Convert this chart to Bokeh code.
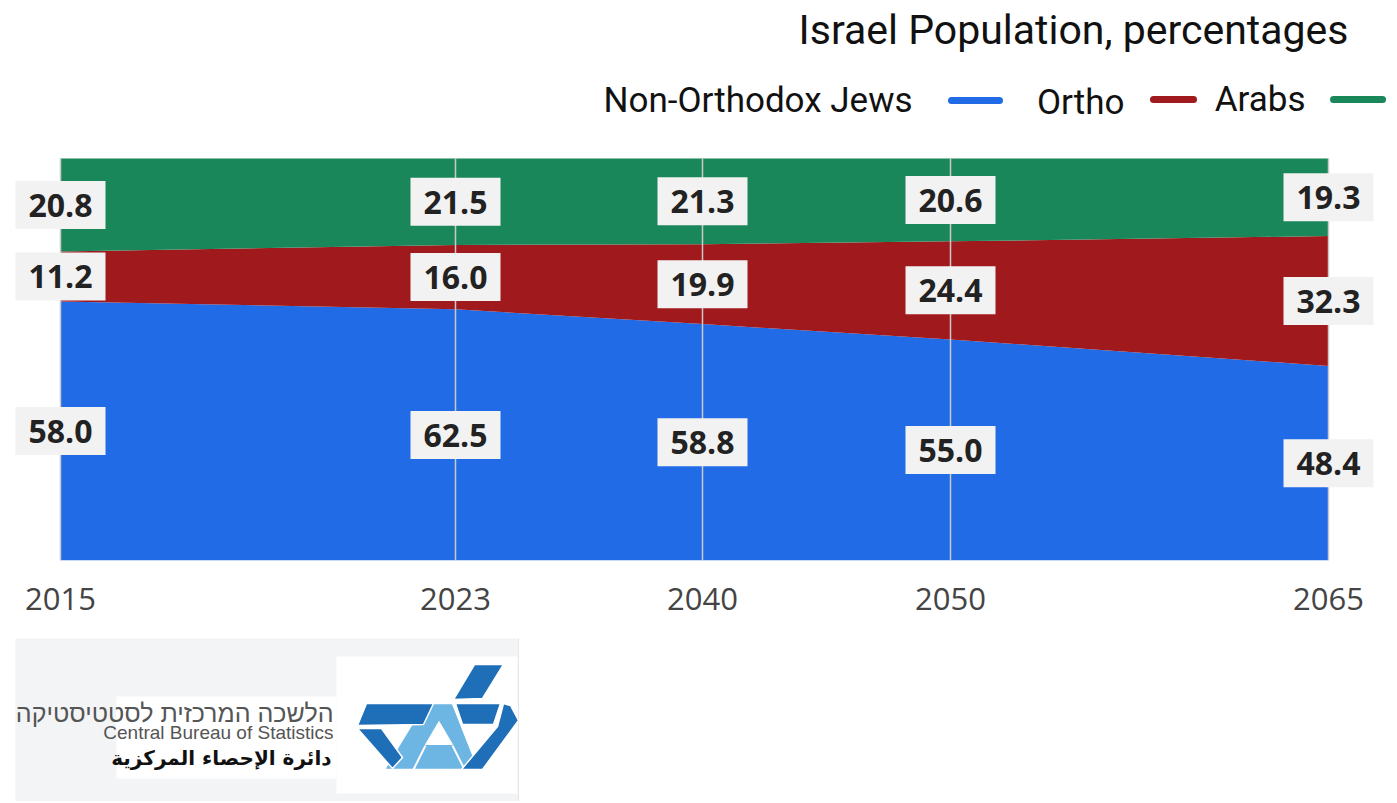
from bokeh.plotting import figure
from bokeh.models import ColumnDataSource, Range1d, FixedTicker, Label
from bokeh.layouts import column
from bokeh.embed import file_html
from bokeh.resources import INLINE
from bokeh.core.properties import value

# ---------------- data ----------------
years = ["2015", "2023", "2040", "2050", "2065"]
# horizontal position of each year column in the source chart (non-uniform spacing)
year_pos = [0, 395, 642, 890, 1268]
non_orthodox = [58.0, 62.5, 58.8, 55.0, 48.4]
orthodox = [11.2, 16.0, 19.9, 24.4, 32.3]
arabs = [20.8, 21.5, 21.3, 20.6, 19.3]
series_names = ["Non-Orthodox Jews", "Ortho", "Arabs"]
series_colors = ["#226be7", "#a0191c", "#1a875a"]
title_text = "Israel Population, percentages"

# 100% stacked shares
totals = [a + b + c for a, b, c in zip(non_orthodox, orthodox, arabs)]
sh_n = [v / t * 100 for v, t in zip(non_orthodox, totals)]
sh_o = [v / t * 100 for v, t in zip(orthodox, totals)]
sh_a = [v / t * 100 for v, t in zip(arabs, totals)]

src = ColumnDataSource(dict(x=year_pos, n=sh_n, o=sh_o, a=sh_a))

# ---------------- main figure ----------------
W = 1395
H1 = 638
FRAME_BOTTOM = 560           # page y of the 0% line
PX_PER_UNIT = 4.02           # vertical pixels per percent
Y_TOP = FRAME_BOTTOM / PX_PER_UNIT

p = figure(width=W, height=H1, x_range=Range1d(-60, W - 60), y_range=Range1d(0, Y_TOP),
           output_backend="svg", toolbar_location=None, y_axis_location=None,
           min_border_left=0, min_border_right=0, min_border_top=0,
           min_border_bottom=H1 - FRAME_BOTTOM, background_fill_color="white",
           border_fill_color="white", outline_line_color=None)
p.xgrid.visible = False
p.ygrid.visible = False


def dx(px):
    return px - 60


def dy(py):
    return (FRAME_BOTTOM - py) / PX_PER_UNIT


p.varea_stack(["n", "o", "a"], x="x", color=series_colors, source=src)

# vertical grid lines drawn over the areas
p.segment(x0=year_pos, y0=[0] * len(year_pos), x1=year_pos, y1=[100] * len(year_pos),
          line_color="#c9c9c9", line_width=1.5)

# value labels, centred in each band
lab_x, lab_y, lab_t = [], [], []
for i in range(len(years)):
    base = 0.0
    for vals, raw in ((sh_n, non_orthodox), (sh_o, orthodox), (sh_a, arabs)):
        lab_x.append(year_pos[i])
        lab_y.append(base + vals[i] / 2)
        lab_t.append(f"{raw[i]:.1f}")
        base += vals[i]
lsrc = ColumnDataSource(dict(x=lab_x, y=lab_y, t=lab_t))
p.text(x="x", y="y", text="t", source=lsrc, text_font=value("Open Sans"),
       text_font_style="bold", text_font_size="32px", text_color="#222222",
       text_align="center", text_baseline="middle",
       background_fill_color="#f2f2f2",
       padding=dict(left=13, right=13, top=13, bottom=12))

# x axis
p.xaxis.ticker = FixedTicker(ticks=year_pos)
p.xaxis.major_label_overrides = {pos: yr for pos, yr in zip(year_pos, years)}
p.xaxis.axis_line_color = None
p.xaxis.major_tick_line_color = None
p.xaxis.minor_tick_line_color = None
p.xaxis.major_tick_out = 0
p.xaxis.major_tick_in = 0
p.xaxis.major_label_standoff = 27
p.xaxis.major_label_text_font = "Open Sans"
p.xaxis.major_label_text_font_size = "31px"
p.xaxis.major_label_text_color = "#444444"

# title
p.add_layout(Label(x=dx(1348), y=dy(29), text=title_text, text_align="right",
                   text_baseline="middle", text_font="Roboto",
                   text_font_size="41px", text_color="#111111"))

# custom legend: label followed by a short line swatch
leg_label_right = [912, 1124, 1305]
leg_label_y = [100, 102, 99]
leg_sw_x0 = [951, 1153, 1333]
leg_sw_x1 = [999, 1193, 1382]
leg_sw_y = [100, 99, 99]
for name, col, lx, ly, s0, s1, sy in zip(series_names, series_colors, leg_label_right,
                                         leg_label_y, leg_sw_x0, leg_sw_x1, leg_sw_y):
    p.add_layout(Label(x=dx(lx), y=dy(ly), text=name, text_align="right",
                       text_baseline="middle", text_font="Roboto",
                       text_font_size="35px", text_color="#111111"))
    p.segment(x0=[dx(s0)], y0=[dy(sy)], x1=[dx(s1)], y1=[dy(sy)], line_color=col,
              line_width=7, line_cap="round")

# ---------------- logo strip (page-pixel coordinates) ----------------
H2 = 163
q = figure(width=W, height=H2, x_range=Range1d(0, W), y_range=Range1d(H1 + H2, H1),
           output_backend="svg", toolbar_location=None, x_axis_location=None,
           y_axis_location=None, min_border=0, outline_line_color=None,
           background_fill_color="white", border_fill_color="white")
q.xgrid.visible = False
q.ygrid.visible = False

q.quad(left=[15], right=[518], top=[636], bottom=[803], fill_color="#f3f4f6", line_color=None)
q.quad(left=[336], right=[517], top=[656], bottom=[793], fill_color="white", line_color=None)
q.quad(left=[116], right=[336], top=[696], bottom=[778], fill_color="white", line_color=None)
q.segment(x0=[518], y0=[636], x1=[518], y1=[803], line_color="#e6e6e6", line_width=1)

dark = "#1f6fb8"
light = "#6db5e3"
# light "A" body
q.patches(xs=[[384, 478, 452, 424]], ys=[[769, 769, 703, 703]], fill_color=light,
          line_color="white", line_width=1.5)
# hole of the "A" and separations of its cross bar
q.patch(x=[425, 452, 438.5], y=[744, 744, 721], fill_color="white", line_color="white")
q.segment(x0=[413, 464], y0=[769, 769], x1=[425, 452], y1=[745, 745],
          line_color="white", line_width=2)
# dark pieces
dark_xs = [
    [474, 503, 482, 453],
    [366, 433, 423, 357],
    [357, 381, 402, 392],
    [455, 500, 493, 462],
    [503, 510, 518, 482, 461, 497],
]
dark_ys = [
    [664, 664, 698, 699],
    [703, 703, 724, 725],
    [728, 728, 757, 768],
    [703, 703, 724, 724],
    [703, 705, 720, 769, 769, 726],
]
q.patches(xs=dark_xs, ys=dark_ys, fill_color=dark, line_color="white", line_width=1.5)

q.text(x=[333], y=[712], text=["הלשכה המרכזית לסטטיסטיקה"], text_font=value("Liberation Sans"),
       text_font_size="25px", text_color="#555555", text_align="right", text_baseline="middle")
q.text(x=[333], y=[732], text=["Central Bureau of Statistics"], text_font=value("Liberation Sans"),
       text_font_size="19px", text_color="#555555", text_align="right", text_baseline="middle")
q.text(x=[331], y=[757], text=["دائرة الإحصاء المركزية"], text_font=value("DejaVu Sans"),
       text_font_style="bold", text_font_size="20px", text_color="#111111",
       text_align="right", text_baseline="middle")

layout = column(p, q, spacing=0)
open("out.html", "w").write(file_html(layout, INLINE))
